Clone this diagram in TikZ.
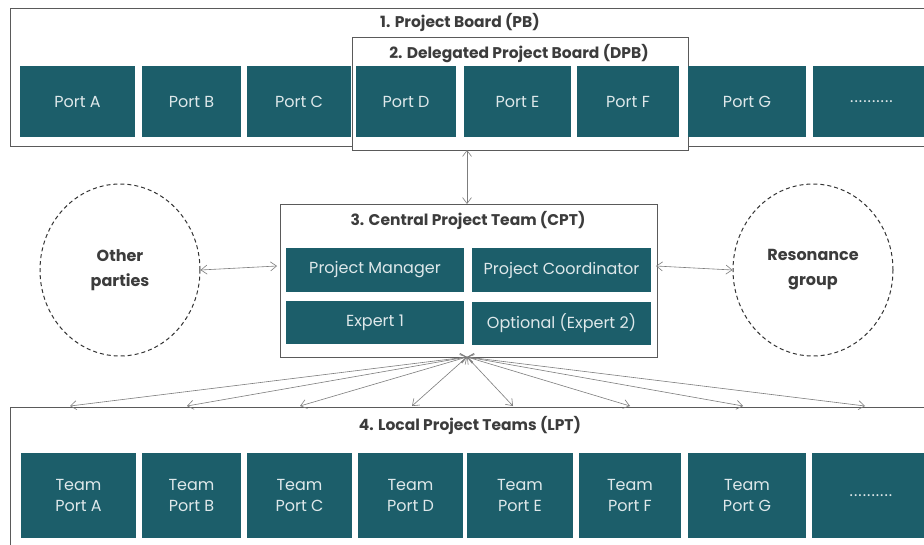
\documentclass[tikz,border=0pt]{standalone}
\usepackage{fontspec}
\setmainfont{Poppins}
\usetikzlibrary{arrows.meta,shapes.geometric}
\definecolor{tealbox}{RGB}{28,94,106}
\definecolor{boxtext}{RGB}{222,232,234}
\definecolor{frame}{RGB}{90,90,90}
\definecolor{link}{RGB}{125,125,125}
\definecolor{heading}{RGB}{60,60,60}
\tikzset{
  tile/.style={fill=tealbox, text=boxtext, inner sep=0pt, align=center,
    font=\fontsize{16}{21}\selectfont},
  group/.style={draw=frame, line width=0.9pt},
  heading/.style={text=heading, font=\bfseries\fontsize{15.5}{17}\selectfont},
  party/.style={ellipse, draw=black!80, dash pattern=on 4pt off 3pt, line width=1pt, align=center,
    text=heading, font=\bfseries\fontsize{16}{25}\selectfont},
  link/.style={draw=link, line width=0.6pt, {Straight Barb[length=6pt,width=9pt]}-{Straight Barb[length=6pt,width=9pt]}}
}
\newcommand{\moreports}{.\kern1pt.\kern1pt.\kern1pt.\kern1pt.\kern1pt.\kern1pt.\kern1pt.\kern1pt.\kern1pt.}
\begin{document}
\begin{tikzpicture}[x=1pt,y=-1pt]
\useasboundingbox (0,0) rectangle (924,544);
\clip (0,0) rectangle (924,544);
\fill[white] (0,0) rectangle (924,544);

% 1. Project Board
\draw[group] (10,8) rectangle (940,146);
\node[heading] (pbtitle) at (460,22) {1. Project Board (PB)};
% 2. Delegated Project Board
\draw[group, fill=white] (352,37) rectangle (688,150);
\node[heading] (dpbtitle) at (519,54) {2. Delegated Project Board (DPB)};
\coordinate (dpbbottom) at (467,150);

\foreach \name/\cx/\w/\txt in {pa/77.5/115/Port A, pb/191.5/99/Port B, pc/299/104/Port C,
  pd/406/100/Port D, pe/517.5/107/Port E, pf/628/102/Port F, pg/747/118/Port G}
  \node[tile, minimum width=\w pt, minimum height=71pt] (\name) at (\cx,101.5) {\txt};
\node[tile, minimum width=117pt, minimum height=71pt] (pdots) at (871.5,101.5) {\moreports};

% 3. Central Project Team
\draw[group] (280,204) rectangle (657,357);
\node[heading] (cpttitle) at (468,220) {3. Central Project Team (CPT)};
\coordinate (cpttop) at (467,204);
\coordinate (cptleft) at (277,266);
\coordinate (cptright) at (656,266);
\coordinate (hub) at (467,357);
\node[tile, minimum width=178pt, minimum height=44pt] (pm) at (375,270) {Project Manager};
\node[tile, minimum width=178pt, minimum height=43pt] (ex1) at (375,322.5) {Expert 1};
\node[tile, minimum width=179pt, minimum height=44pt] (pco) at (561.5,270) {Project Coordinator};
\node[tile, minimum width=179pt, minimum height=43pt] (ex2) at (561.5,323.5) {Optional (Expert 2)};

% surrounding parties
\node[party, minimum width=160pt, minimum height=172pt] (other) at (120,270) {Other\\parties};
\node[party, minimum width=160pt, minimum height=172pt] (reso) at (813,270) {Resonance\\group};

\draw[link] (other.east) -- (cptleft);
\draw[link] (cptright) -- (reso.west);
\draw[link] (dpbbottom) -- (cpttop);

% 4. Local Project Teams
\draw[group] (10,407) rectangle (940,560);
\node[heading] (lpttitle) at (470,425) {4. Local Project Teams (LPT)};

\foreach \name/\cx/\w/\txt in {ta/78.5/115/Team\\Port A, tb/191.5/99/Team\\Port B,
  tc/299.5/105/Team\\Port C, td/410.5/105/Team\\Port D, te/520/106/Team\\Port E,
  tf/630/102/Team\\Port F, tg/747/118/Team\\Port G}
  \node[tile, minimum width=\w pt, minimum height=85pt] (\name) at (\cx,495.5) {\txt};
\node[tile, minimum width=118pt, minimum height=85pt] (tdots) at (871,495.5) {\moreports};

% fan of links from the central team to the local teams
\foreach \i/\ex in {1/70, 2/187, 3/300, 4/412, 5/513, 6/630, 7/743, 8/865} {
  \coordinate (lpt\i) at (\ex,406);
  \draw[link] (hub) -- (lpt\i);
}
\end{tikzpicture}
\end{document}
